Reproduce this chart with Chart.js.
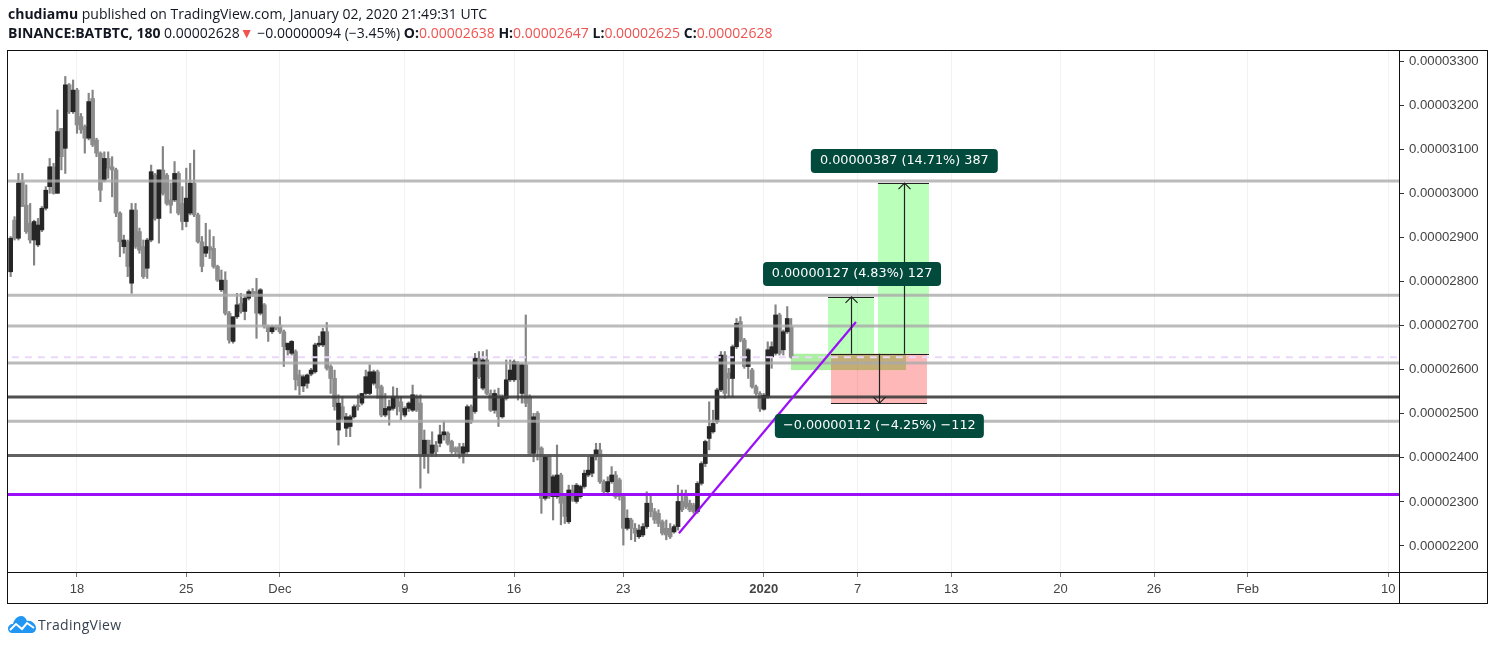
<!DOCTYPE html>
<html>
<head>
<meta charset="utf-8">
<style>
  html, body { margin: 0; padding: 0; background: #fff; }
  #wrap { position: relative; width: 1496px; height: 645px; overflow: hidden; }
  canvas { position: absolute; left: 0; top: 0; }
  .line { position: absolute; left: 8px; white-space: nowrap; font-family: "Open Sans", sans-serif; font-size: 14px; color: #131722; }
  .line b { font-weight: 700; }
  .red { color: #ef5350; }
  #brand { position: absolute; left: 38px; top: 615px; font-family: "Open Sans", sans-serif; font-size: 14px; letter-spacing: 0.3px; color: #37424e; }
  #logo { position: absolute; left: 7px; top: 615px; }
</style>
</head>
<body>
<div id="wrap">
  <canvas id="tv" width="1496" height="645"></canvas>
  <div class="line" style="top:4px"><b>chudiamu</b> published on TradingView.com, January 02, 2020 21:49:31 UTC</div>
  <div class="line" style="top:23px"><b>BINANCE:BATBTC, 180</b> 0.00002628<span class="red">▼</span> −0.00000094 (−3.45%) <b>O:</b><span class="red">0.00002638</span> <b>H:</b><span class="red">0.00002647</span> <b>L:</b><span class="red">0.00002625</span> <b>C:</b><span class="red">0.00002628</span></div>
  <svg id="logo" width="30" height="19" viewBox="0 0 30 19">
    <path d="M1 14 C1 11 3 9 6 9 C7 5 10 1 14 1 C17 1 19 3 20 6 C24 5 29 9 29 13 C29 16 27 18 24 18 L5 18 C3 18 1 16 1 14 Z" fill="#2196f3"/>
    <path d="M3 15 L9 9 L15 14 L20 8 L27 13" fill="none" stroke="#fff" stroke-width="2"/>
  </svg>
  <div id="brand">TradingView</div>
</div>
<script src="https://cdn.jsdelivr.net/npm/chart.js@4/dist/chart.umd.min.js"></script>
<script>
"use strict";
// prices are in satoshi (1e-8 BTC). one candle = 6h, day 0 = 18 Nov
const firstDay = -4.25;
const barStep = 0.25;

const opens = [2822,2939,2898,3026,2973,2932,2894,2883,2917,2966,3015,3060,3000,3147,3102,3246,3185,3234,3174,3151,
  3125,3215,3121,3091,3030,3079,3060,3053,2955,2879,2890,2796,2962,2913,2879,2830,2894,3041,2943,3053,
  3041,2985,2985,3045,2977,2936,2955,3023,2951,2890,2864,2879,2875,2834,2781,2803,2728,2664,2720,2750,
  2732,2762,2777,2777,2728,2747,2698,2686,2698,2701,2686,2645,2637,2641,2588,2563,2569,2590,2595,2656,
  2656,2686,2607,2580,2463,2516,2467,2471,2493,2520,2524,2546,2546,2569,2595,2561,2497,2508,2512,2539,
  2527,2497,2512,2508,2539,2524,2403,2440,2410,2429,2433,2452,2456,2437,2422,2425,2410,2414,2516,2505,
  2626,2558,2622,2546,2508,2543,2493,2535,2577,2577,2614,2546,2611,2539,2410,2501,2422,2308,2403,2312,
  2312,2361,2312,2255,2327,2301,2312,2335,2361,2365,2403,2418,2346,2323,2346,2361,2350,2312,2240,2259,
  2240,2221,2225,2244,2297,2278,2274,2255,2240,2240,2232,2244,2301,2312,2297,2293,2278,2342,2387,2444,
  2459,2482,2554,2633,2592,2580,2652,2709,2667,2607,2599,2561,2546,2510,2539,2629,2637,2724,2645,2686,
  2697];
const closes = [2898,2898,3023,2970,2913,2894,2936,2928,2966,3007,3060,3000,3140,3083,3246,3185,3234,3155,3144,3125,
  3208,3110,3091,3007,3079,3057,3053,2955,2890,2894,2834,2962,2879,2871,2811,2894,3049,2943,3053,3000,
  2977,2973,3045,2955,2936,2989,3023,2951,2890,2834,2879,2871,2834,2803,2803,2728,2667,2720,2747,2732,
  2762,2777,2769,2728,2781,2698,2686,2698,2694,2686,2652,2660,2664,2577,2563,2584,2588,2599,2656,2660,
  2686,2603,2580,2516,2524,2490,2493,2493,2516,2516,2546,2584,2595,2595,2558,2497,2512,2516,2539,2516,
  2505,2512,2524,2543,2508,2406,2440,2406,2429,2414,2452,2459,2433,2414,2414,2410,2425,2516,2482,2626,
  2584,2622,2546,2508,2546,2493,2539,2577,2599,2618,2577,2611,2524,2410,2493,2418,2308,2403,2312,2357,
  2361,2297,2267,2327,2304,2338,2335,2365,2372,2406,2418,2346,2323,2346,2361,2312,2312,2240,2263,2240,
  2229,2236,2244,2297,2278,2259,2251,2229,2225,2221,2244,2301,2282,2289,2282,2278,2342,2387,2437,2471,
  2478,2554,2633,2546,2580,2652,2705,2667,2607,2645,2561,2546,2512,2542,2645,2652,2724,2637,2686,2716,
  2628];
const highs = [2902,2947,3045,3045,3019,2977,2939,2943,2970,3015,3079,3068,3189,3147,3265,3249,3257,3238,3181,3155,
  3227,3234,3125,3094,3094,3094,3083,3057,2958,2905,2894,2977,2977,2921,2894,2898,3064,3045,3053,3106,
  3045,3023,3072,3049,3015,3057,3068,3098,2955,2902,2932,2917,2902,2837,2826,2822,2732,2720,2773,2773,
  2766,2781,2784,2807,2784,2750,2701,2701,2701,2720,2690,2660,2666,2645,2599,2588,2590,2603,2660,2676,
  2694,2707,2611,2599,2543,2539,2501,2497,2520,2543,2546,2599,2611,2599,2599,2565,2546,2531,2561,2558,
  2539,2516,2527,2565,2543,2543,2463,2440,2459,2437,2474,2482,2459,2440,2425,2433,2433,2520,2520,2637,
  2641,2641,2645,2554,2554,2558,2543,2622,2622,2622,2618,2614,2724,2543,2501,2505,2425,2406,2406,2361,
  2429,2365,2316,2338,2338,2342,2338,2372,2403,2406,2433,2433,2350,2357,2380,2369,2354,2316,2282,2263,
  2251,2248,2251,2323,2319,2285,2282,2259,2259,2251,2248,2338,2327,2327,2304,2297,2346,2391,2440,2527,
  2508,2558,2641,2641,2603,2656,2716,2720,2671,2648,2603,2565,2550,2546,2663,2663,2747,2728,2690,2743,
  2716];
const lows = [2811,2894,2894,2970,2909,2887,2837,2879,2913,2962,3000,2998,3000,3053,3045,3181,3181,3136,3136,3091,
  3121,3106,3083,2981,3026,3034,2992,2947,2856,2864,2811,2773,2875,2864,2807,2807,2890,2939,2887,2996,
  2973,2955,2981,2951,2917,2924,2951,2947,2887,2822,2856,2852,2830,2800,2777,2724,2660,2660,2716,2728,
  2713,2758,2766,2671,2724,2694,2664,2682,2690,2682,2607,2633,2633,2554,2543,2550,2558,2586,2592,2652,
  2652,2599,2546,2508,2429,2486,2448,2448,2490,2508,2520,2543,2543,2565,2535,2493,2493,2474,2508,2497,
  2486,2493,2505,2505,2505,2331,2376,2365,2403,2403,2425,2440,2429,2410,2409,2399,2388,2410,2478,2501,
  2580,2554,2543,2505,2501,2471,2490,2531,2573,2573,2531,2524,2516,2406,2391,2395,2274,2304,2308,2259,
  2308,2248,2251,2251,2301,2297,2308,2331,2357,2357,2395,2342,2316,2320,2342,2308,2304,2202,2236,2214,
  2210,2217,2221,2240,2266,2251,2244,2225,2214,2217,2229,2236,2278,2285,2278,2274,2274,2338,2380,2418,
  2456,2478,2550,2535,2539,2539,2648,2663,2603,2580,2558,2542,2505,2508,2535,2603,2633,2633,2633,2682,
  2626];

const priceTicks = [3300,3200,3100,3000,2900,2800,2700,2600,2500,2400,2300,2200];
const dayTicks = [0,7,13,21,28,35,44,50,56,63,69,75,84];
const dayLabels = ["18","25","Dec","9","16","23","2020","7","13","20","26","Feb","10"];

const lightLevels = [3028,2769,2699,2615,2483];
const darkLevel = 2538;
const midLevel = 2405;
const purpleLevel = 2317;
const lastPrice = 2628;
const trendDays = [38.56,49.9];
const trendPrices = [2229,2708];

// drawn ranges: [day from, day to, price from, price to]
const redZone = [48.3,54.45,2636,2524];
const smallZone = [45.74,53.11,2636,2599];
const target1 = [48.11,51.06,2636,2765];
const target2 = [51.31,54.58,2636,3023];
// measure arrows: [day, price from, price to]
const arrowUp1 = [49.58,2636,2765];
const arrowUp2 = [53.0,2636,3023];
const arrowDown = [51.38,2636,2524];
// labels: [text, centre day, centre price, width]
const labels = [
  ["0.00000387 (14.71%) 387",53.0,3073,187],
  ["0.00000127 (4.83%) 127",49.65,2817,178],
  ["−0.00000112 (−4.25%) −112",51.4,2472,209]
];

const barDay = (i) => firstDay + i * barStep;
const isUp = (i) => closes[i] >= opens[i];
const idx = opens.map((_, i) => i);

const hline = (price, color, width, dash) => ({
  type: "line",
  data: [{ x: -10, y: price }, { x: 90, y: price }],
  borderColor: color,
  borderWidth: width,
  borderDash: dash || [],
  pointRadius: 0,
  order: 1,
});

const datasets = [
  { type: "line", data: trendDays.map((d, i) => ({ x: d, y: trendPrices[i] })), borderColor: "#9a0ef8", borderWidth: 2.2, pointRadius: 0, order: 0 },
  hline(lastPrice, "#ead8fb", 2, [7, 6]),
  hline(purpleLevel, "#9a0ef8", 3),
  hline(midLevel, "rgba(80,80,80,0.9)", 3),
  hline(darkLevel, "rgba(60,60,60,0.9)", 3),
  ...lightLevels.map((p) => hline(p, "rgba(170,170,170,0.8)", 3)),
  { type: "bar", data: idx.filter(isUp).map((i) => ({ x: barDay(i), y: [opens[i], closes[i]] })), backgroundColor: "#262626", barThickness: 4, grouped: false, order: 5 },
  { type: "bar", data: idx.filter((i) => !isUp(i)).map((i) => ({ x: barDay(i), y: [opens[i], closes[i]] })), backgroundColor: "#8c8c8c", barThickness: 4, grouped: false, order: 6 },
  { type: "bar", data: idx.map((i) => ({ x: barDay(i), y: [lows[i], highs[i]] })), backgroundColor: "#848484", barThickness: 1.5, grouped: false, order: 7 },
];

const fillZone = (c, s, z, color) => {
  const x0 = s.x.getPixelForValue(z[0]), x1 = s.x.getPixelForValue(z[1]);
  const y0 = s.y.getPixelForValue(z[2]), y1 = s.y.getPixelForValue(z[3]);
  c.fillStyle = color;
  c.fillRect(x0, Math.min(y0, y1), x1 - x0, Math.abs(y1 - y0));
};

const hEdge = (c, s, d0, d1, price) => {
  const y = Math.round(s.y.getPixelForValue(price)) + 0.5;
  c.beginPath();
  c.moveTo(s.x.getPixelForValue(d0), y);
  c.lineTo(s.x.getPixelForValue(d1), y);
  c.stroke();
};

const arrow = (c, s, a) => {
  const x = Math.round(s.x.getPixelForValue(a[0])) + 0.5;
  const y0 = s.y.getPixelForValue(a[1]), y1 = s.y.getPixelForValue(a[2]);
  const dir = y1 < y0 ? 1 : -1;
  c.beginPath();
  c.moveTo(x, y0);
  c.lineTo(x, y1);
  c.moveTo(x - 6, y1 + dir * 6);
  c.lineTo(x, y1);
  c.lineTo(x + 6, y1 + dir * 6);
  c.stroke();
};

const drawings = {
  id: "drawings",
  beforeDatasetsDraw(chart) {
    const c = chart.ctx, s = chart.scales;
    c.save();
    fillZone(c, s, target1, "rgba(0,255,0,0.27)");
    fillZone(c, s, target2, "rgba(0,255,0,0.27)");
    fillZone(c, s, smallZone, "rgba(42,217,17,0.4)");
    fillZone(c, s, redZone, "rgba(255,0,0,0.28)");
    c.restore();
  },
  afterDatasetsDraw(chart) {
    const c = chart.ctx, s = chart.scales;
    c.save();
    c.strokeStyle = "#222";
    c.lineWidth = 1.2;
    hEdge(c, s, target1[0], target1[1], target1[3]);
    hEdge(c, s, target2[0], target2[1], target2[3]);
    hEdge(c, s, redZone[0], target2[1], target2[2]);
    hEdge(c, s, redZone[0], redZone[1], redZone[3]);
    arrow(c, s, arrowUp1);
    arrow(c, s, arrowUp2);
    arrow(c, s, arrowDown);
    c.font = '12.8px "DejaVu Sans"';
    c.textAlign = "center";
    c.textBaseline = "middle";
    labels.forEach((l) => {
      const cx = s.x.getPixelForValue(l[1]), cy = s.y.getPixelForValue(l[2]);
      c.fillStyle = "#024a3c";
      c.beginPath();
      c.roundRect(cx - l[3] / 2, cy - 12, l[3], 24, 4);
      c.fill();
      c.fillStyle = "#ffffff";
      c.fillText(l[0], cx, cy);
    });
    // frame round the panes
    const a = chart.chartArea;
    c.strokeStyle = "#111";
    c.lineWidth = 1;
    c.strokeRect(a.left - 0.5, a.top + 0.5, chart.width - 16, a.height + 31);
    c.beginPath();
    c.moveTo(a.left, a.bottom + 0.5);
    c.lineTo(chart.width - 8, a.bottom + 0.5);
    c.moveTo(a.right + 0.5, a.top);
    c.lineTo(a.right + 0.5, a.bottom + 31);
    c.stroke();
    c.restore();
  },
};

new Chart(document.getElementById("tv"), {
  type: "bar",
  data: { datasets },
  plugins: [drawings],
  options: {
    responsive: false,
    animation: false,
    devicePixelRatio: 1,
    layout: { padding: { left: 8, top: 50, right: 8, bottom: 42 } },
    plugins: { legend: { display: false }, tooltip: { enabled: false } },
    scales: {
      x: {
        type: "linear",
        offset: false,
        min: -4.42,
        max: 84.69,
        afterBuildTicks: (s) => { s.ticks = dayTicks.map((v) => ({ value: v })); },
        afterFit: (s) => { s.height = 31; },
        grid: { offset: false, color: "#f2f2f2", tickColor: "#777", tickLength: 5, drawTicks: true },
        border: { display: false },
        ticks: {
          autoSkip: false,
          maxRotation: 0,
          padding: 5,
          color: "#444",
          font: (ctx) => ({ family: "Liberation Sans", size: 13, weight: dayLabels[dayTicks.indexOf(ctx.tick && ctx.tick.value)] === "2020" ? "bold" : "normal" }),
          callback: (v) => dayLabels[dayTicks.indexOf(v)],
        },
      },
      y: {
        position: "right",
        min: 2141,
        max: 3325,
        afterBuildTicks: (s) => { s.ticks = priceTicks.map((v) => ({ value: v })); },
        afterFit: (s) => { s.width = 89; },
        grid: { drawOnChartArea: false, tickColor: "#333", tickLength: 5 },
        border: { display: false },
        ticks: {
          padding: 5,
          color: "#444",
          font: { family: "Liberation Sans", size: 13.2 },
          callback: (v) => (v / 1e8).toFixed(8),
        },
      },
    },
  },
});
</script>
</body>
</html>
